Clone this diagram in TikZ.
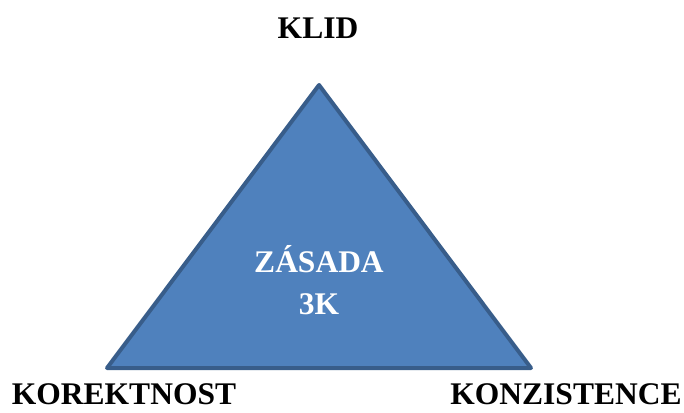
\documentclass[tikz,border=0pt]{standalone}
\usepackage{fontspec}
\setmainfont{Liberation Serif}
\usepackage{tikz}
\usetikzlibrary{positioning}
\definecolor{triblue}{HTML}{4F81BD}
\definecolor{triedge}{HTML}{385D8A}
\tikzset{label3k/.style={font=\fontsize{31.5}{42}\selectfont\bfseries,inner sep=0pt,anchor=base}}

\begin{document}
\begin{tikzpicture}[x=1pt,y=-1pt]
\useasboundingbox (0,0) rectangle (684,412);
\coordinate (top) at (319,85);
\coordinate (left) at (107,368);
\coordinate (right) at (531,368);
\draw[color=triedge,fill=triblue,line width=4pt,line join=round] (top) -- (left) -- (right) -- cycle;
\draw (318,38) node[label3k] (klid){KLID};
\draw (124,404) node[label3k] (korektnost){KOREKTNOST};
\draw (566,404) node[label3k] (konzistence){KONZISTENCE};
\draw (319,272) node[label3k,text=white] (zasada){ZÁSADA};
\draw (319,314) node[label3k,text=white] (tri){3K};
\end{tikzpicture}
\end{document}
